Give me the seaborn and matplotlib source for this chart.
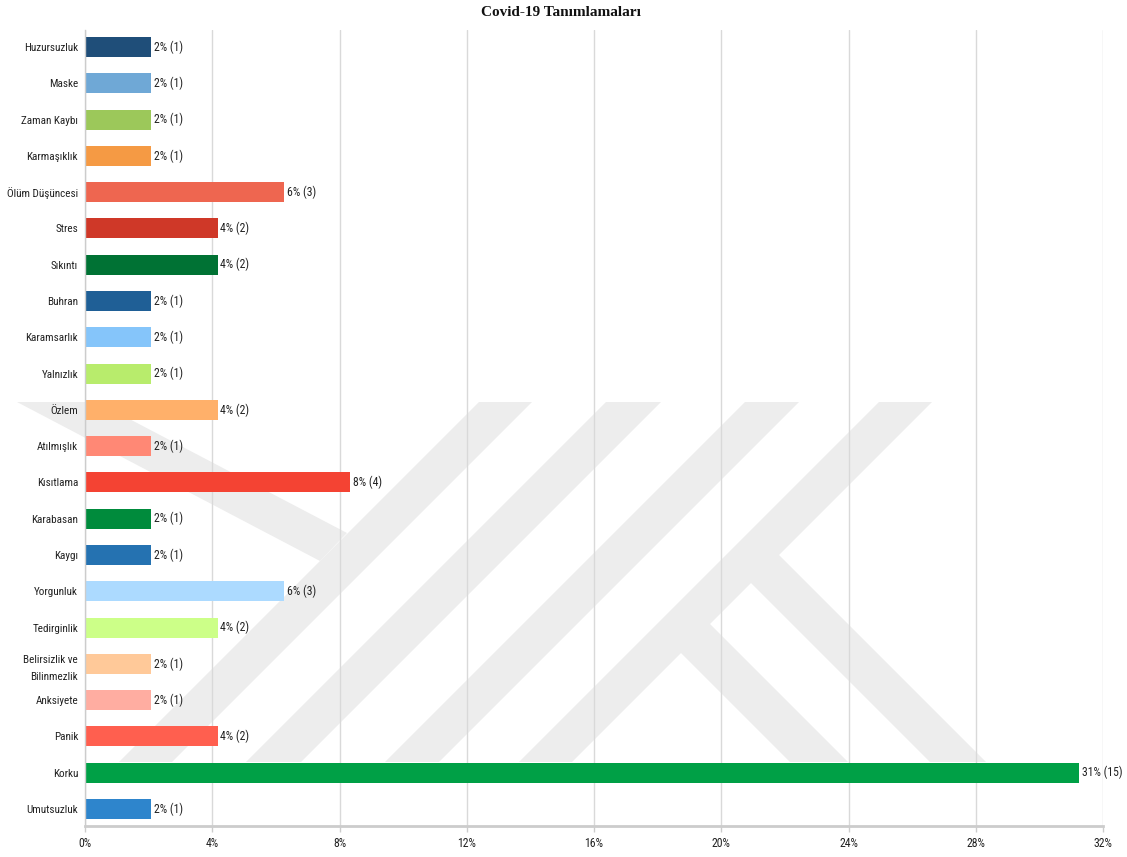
import matplotlib
matplotlib.use("Agg")
import matplotlib.pyplot as plt
from matplotlib import font_manager as fm
from matplotlib.patches import Polygon
import seaborn as sns
import pandas as pd

# ---- data ----
categories = ["Huzursuzluk", "Maske", "Zaman Kaybı", "Karmaşıklık", "Ölüm Düşüncesi",
              "Stres", "Sıkıntı", "Buhran", "Karamsarlık", "Yalnızlık", "Özlem",
              "Atılmışlık", "Kısıtlama", "Karabasan", "Kaygı", "Yorgunluk",
              "Tedirginlik", "Belirsizlik ve\nBilinmezlik", "Anksiyete", "Panik",
              "Korku", "Umutsuzluk"]
counts = [1, 1, 1, 1, 3, 2, 2, 1, 1, 1, 2, 1, 4, 1, 1, 3, 2, 1, 1, 2, 15, 1]
bar_colors = ["#1f4e79", "#6fa8d6", "#9cc85a", "#f59a44", "#ee6650",
              "#cf3828", "#007234", "#1f5f96", "#85c5fa", "#b8ec6c", "#ffb06a",
              "#ff8875", "#f44333", "#008b3c", "#2572b1", "#acdaff",
              "#ccff88", "#ffc999", "#ffada1", "#ff5f4f", "#00a046", "#2e85cc"]
x_ticks = [0, 4, 8, 12, 16, 20, 24, 28, 32]
title = "Covid-19 Tanımlamaları"

total = sum(counts)
percents = [c / total * 100 for c in counts]
value_labels = [f"{round(p)}% ({c})" for p, c in zip(percents, counts)]

df = pd.DataFrame({"cat": categories, "pct": percents})

# ---- fonts ----
sns.set_theme(style="white")
names = {f.name for f in fm.fontManager.ttflist}
sans = "Liberation Sans Narrow" if "Liberation Sans Narrow" in names else (
    "Roboto Condensed" if "Roboto Condensed" in names else "Liberation Sans")
plt.rcParams["font.family"] = [sans, "DejaVu Sans"]

W, H = 1127, 857
fig = plt.figure(figsize=(W / 100, H / 100), dpi=100)
fig.patch.set_facecolor("white")

# ---- watermark (decorative background logo) ----
def px(pts):
    return [(x / W, 1 - y / H) for x, y in pts]

wm = "#ededed"
top, bot = 402, 762
def slash(x0, w):
    d = bot - top
    return [(x0, top), (x0 + w, top), (x0 + w - d, bot), (x0 - d, bot)]

shapes = [slash(479, 53), slash(606, 55), slash(745, 54), slash(879, 53),
          [(17, top), (97, top), (347, 533), (320, 561)],
          [(676, 648), (706, 620), (848, bot), (790, bot)],
          [(748, 580), (777, 553), (986, bot), (930, bot)]]
for s in shapes:
    fig.add_artist(Polygon(px(s), closed=True, facecolor=wm, edgecolor="none",
                           transform=fig.transFigure, zorder=0))

# ---- chart ----
ax = fig.add_axes([85 / W, (H - 826) / H, (1103 - 85) / W, (826 - 30) / H])
ax.set_facecolor("none")
ax.set_zorder(1)

sns.barplot(data=df, y="cat", x="pct", hue="cat", palette=bar_colors,
            order=categories, hue_order=categories, legend=False,
            width=0.55, orient="h", saturation=1, linewidth=0, ax=ax)

for cont, lab in zip(ax.containers, value_labels):
    ax.bar_label(cont, labels=[lab], padding=2, fontsize=8.5, color="#222222")

ax.set_xlim(0, 32)
ax.set_ylim(len(categories) - 0.53, -0.47)
ax.set_xticks(x_ticks)
ax.set_xticklabels([f"{t}%" for t in x_ticks])
ax.set_xlabel("")
ax.set_ylabel("")
ax.grid(axis="x", color="#d9d9d9", linewidth=1)
ax.grid(axis="y", visible=False)
ax.set_axisbelow(True)

for side in ["top", "right"]:
    ax.spines[side].set_visible(False)
ax.spines["left"].set_color("#cccccc")
ax.spines["left"].set_linewidth(1)
ax.spines["bottom"].set_color("#cccccc")
ax.spines["bottom"].set_linewidth(2)

ax.tick_params(axis="x", length=4, width=1, color="#cccccc", labelsize=8.5,
               labelcolor="#222222", pad=4, bottom=True)
ax.tick_params(axis="y", length=0, labelsize=8, labelcolor="#222222", pad=5)
for t in ax.get_yticklabels():
    if "\n" in t.get_text():
        t.set_linespacing(1.9)

fig.text(0.498, 1 - 13 / H, title, ha="center", va="center",
         fontsize=11, fontweight="bold", family=["Liberation Serif", "DejaVu Serif"],
         color="#111111")

fig.savefig("out.png", dpi=100, facecolor="white")
